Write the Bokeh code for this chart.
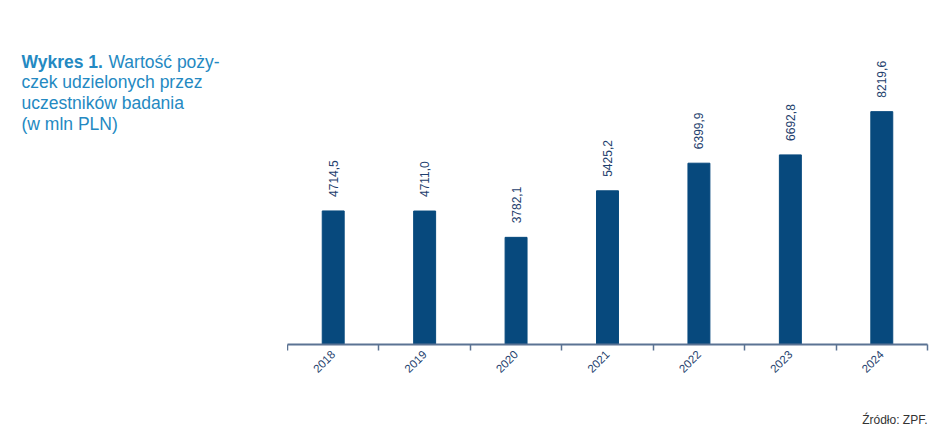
from bokeh.plotting import figure
from bokeh.models import Range1d, FixedTicker, Label
from bokeh.layouts import row, column
from bokeh.embed import file_html
from bokeh.resources import INLINE
from bokeh.core.properties import value
import math

years = ["2018", "2019", "2020", "2021", "2022", "2023", "2024"]
values = [4714.5, 4711.0, 3782.1, 5425.2, 6399.9, 6692.8, 8219.6]
labels = [f"{v:.1f}".replace(".", ",") for v in values]
title_bold = "Wykres 1."
title_lines = ["Wartość poży-", "czek udzielonych przez", "uczestników badania", "(w mln PLN)"]
source = "Źródło: ZPF."

BAR = "#07497d"
TXT = "#1f3f6e"
TITLE = "#2489c2"
FONT = "Liberation Sans"

W = 940
H = 400          # height of the main row
SH = 27          # height of the source strip
LW = 287
CW = W - LW
right, top, bottom = 13, 27, 56
frame_h = H - top - bottom
units_per_px = 35.3

# ---- title panel (frames are aligned with the chart; data units = canvas pixels, y from top)
t = figure(width=LW, height=H, output_backend="svg", toolbar_location=None,
           min_border_left=0, min_border_right=0, min_border_top=top, min_border_bottom=bottom,
           x_range=Range1d(0, LW), y_range=Range1d(H - bottom, top))
t.axis.visible = False
t.grid.visible = False
t.outline_line_color = None

def lab(fig, x, y, text, **kw):
    fig.add_layout(Label(x=x, y=y, text=text, text_font=FONT, text_baseline="alphabetic", **kw))

base = 61
lab(t, 21, base, title_bold, text_font_style="bold", text_color=TITLE, text_font_size="17.5px")
lab(t, 108, base, title_lines[0], text_color=TITLE, text_font_size="17.5px")
for i, s in enumerate(title_lines[1:]):
    lab(t, 21, base + 20.7 * (i + 1), s, text_color=TITLE, text_font_size="17.5px")

# ---- chart
p = figure(width=CW, height=H, output_backend="svg", toolbar_location=None,
           min_border_left=0, min_border_right=right,
           min_border_top=top, min_border_bottom=bottom,
           x_range=Range1d(0, len(years)), y_range=Range1d(0, frame_h * units_per_px))
p.outline_line_color = None
p.grid.visible = False
p.yaxis.visible = False

xs = [i + 0.5 for i in range(len(years))]
p.vbar(x=xs, top=values, width=0.24, color=BAR)
p.text(x=xs, y=values, text=labels, angle=math.pi / 2, y_offset=-14,
       text_align="left", text_baseline="middle", text_color=TXT,
       text_font=value(FONT), text_font_size="12px")

ax = p.xaxis[0]
ax.ticker = FixedTicker(ticks=xs, minor_ticks=list(range(len(years) + 1)))
ax.major_label_overrides = {x: y for x, y in zip(xs, years)}
ax.major_label_orientation = math.pi / 4
ax.major_tick_out = 0
ax.major_tick_in = 0
ax.minor_tick_out = 6
ax.minor_tick_in = 0
ax.minor_tick_line_color = "#5b7393"
ax.minor_tick_line_width = 1.5
ax.axis_line_color = "#5b7393"
ax.axis_line_width = 2
ax.major_label_text_color = TXT
ax.major_label_text_font = FONT
ax.major_label_text_font_size = "11.5px"
ax.major_label_standoff = 2

# ---- source strip
s = figure(width=W, height=SH, output_backend="svg", toolbar_location=None,
           min_border=0, x_range=Range1d(0, W), y_range=Range1d(SH, 0))
s.axis.visible = False
s.grid.visible = False
s.outline_line_color = None
lab(s, 927, 19, source, text_align="right", text_color="#333333", text_font_size="12px")

open("out.html", "w").write(file_html(column(row(t, p), s), INLINE))
